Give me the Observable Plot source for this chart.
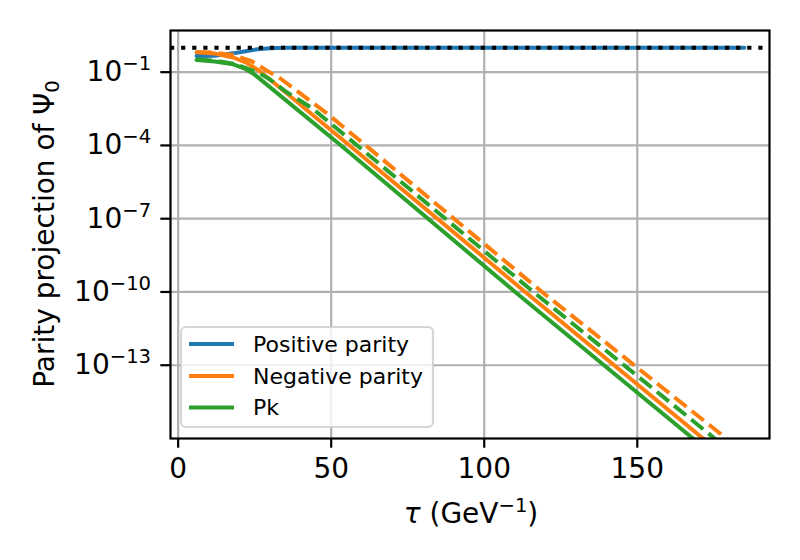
<!DOCTYPE html>
<html>
<head>
<meta charset="utf-8">
<script src="https://cdn.jsdelivr.net/npm/d3@7"></script>
<script src="https://cdn.jsdelivr.net/npm/@observablehq/plot@0.6"></script>
<style>
  html, body { margin: 0; padding: 0; background: #ffffff; }
  #chart { width: 800px; height: 560px; }
</style>
</head>
<body>
<div id="chart"></div>
<script>
// ---- Data ----
const xTicks = [0, 50, 100, 150];
const yTicks = [1e-1, 1e-4, 1e-7, 1e-10, 1e-13];

// Positive parity (solid blue)
const posX = [6, 12, 18, 22, 26, 30, 35, 40, 185];
const posY = [0.457, 0.468, 0.589, 0.724, 0.871, 0.955, 0.989, 1, 1];

// Negative parity (solid orange)
const negX = [6, 12, 18, 22, 26, 30, 56, 113.4, 171.5, 185];
const negY = [0.646, 0.575, 0.398, 0.251, 0.126, 0.0501, 1e-4, 1e-10, 1e-16, 4e-18];

// Pk (solid green)
const pkX = [6, 12, 18, 22, 25, 53.2, 110.1, 168.2, 185];
const pkY = [0.316, 0.275, 0.209, 0.135, 0.0794, 1e-4, 1e-10, 1e-16, 1.8e-18];

// Negative parity, dashed orange
const negDashX = [6, 12, 18, 24, 28.5, 33.4, 49.2, 61.3, 118.9, 179.1, 185];
const negDashY = [0.676, 0.631, 0.501, 0.282, 0.126, 0.055, 1.78e-3, 1e-4, 1e-10, 1e-16, 2.5e-17];

// Pk, dashed green
const pkDashX = [6, 12, 18, 22, 26.8, 30, 35, 43.8, 58.5, 116.1, 175.3, 185];
const pkDashY = [0.339, 0.295, 0.224, 0.151, 0.0871, 0.0501, 0.0166, 3.31e-3, 1e-4, 1e-10, 1e-16, 1.05e-17];

const refLine = [1];

const legendNames = ["Positive parity", "Negative parity", "Pk"];
const colors = ["#1f77b4", "#ff7f0e", "#2ca02c"];

const rows = (xs, ys) => xs.map((x, i) => ({x, y: ys[i]}));

const FONT = "DejaVu Sans";
const LW = 4;
const DASH = "15.4,6.7";

const svg = Plot.plot({
  width: 800,
  height: 560,
  marginLeft: 170,
  marginRight: 31,
  marginTop: 30,
  marginBottom: 122,
  style: {fontFamily: FONT, fontSize: "28px", color: "#000", background: "#fff", overflow: "visible"},
  x: {domain: [-2.5, 193.2], label: null},
  y: {type: "log", domain: [1e-16, 5.08], label: null},
  marks: [
    Plot.gridX(xTicks, {stroke: "#b0b0b0", strokeOpacity: 1, strokeWidth: 2.2}),
    Plot.gridY(yTicks, {stroke: "#b0b0b0", strokeOpacity: 1, strokeWidth: 2.2}),
    Plot.line(rows(posX, posY), {x: "x", y: "y", stroke: colors[0], strokeWidth: LW, clip: true}),
    Plot.line(rows(negX, negY), {x: "x", y: "y", stroke: colors[1], strokeWidth: LW, clip: true}),
    Plot.line(rows(pkX, pkY), {x: "x", y: "y", stroke: colors[2], strokeWidth: LW, clip: true}),
    Plot.line(rows(negDashX, negDashY), {x: "x", y: "y", stroke: colors[1], strokeWidth: LW, strokeDasharray: DASH, strokeLinecap: "butt", clip: true}),
    Plot.line(rows(pkDashX, pkDashY), {x: "x", y: "y", stroke: colors[2], strokeWidth: LW, strokeDasharray: DASH, strokeLinecap: "butt", clip: true}),
    Plot.ruleY(refLine, {stroke: "#000", strokeWidth: LW, strokeDasharray: "4.2,6.9", strokeLinecap: "butt"}),
    Plot.axisX(xTicks, {tickSize: 9.7, tickPadding: 9.7, strokeWidth: 2.2, fontSize: 28, label: null}),
    Plot.axisY(yTicks, {tickSize: 9.7, tickPadding: 9.7, strokeWidth: 2.2, fontSize: 28, label: null,
      tickFormat: d => "10^" + Math.round(Math.log10(d))}),
    Plot.frame({stroke: "#000", strokeWidth: 2.2})
  ]
});

document.getElementById("chart").append(svg);

const S = d3.select(svg);

// superscripts for y tick labels
S.selectAll('g[aria-label="y-axis tick label"] text').each(function() {
  const t = d3.select(this);
  const s = this.textContent;
  if (s.indexOf("^") < 0) return;
  const [base, exp] = s.split("^");
  t.text(null);
  t.append("tspan").text(base);
  t.append("tspan").attr("dy", "-11px").attr("font-size", "70%").text(exp.replace("-", "\u2212"));
});

// x label
const xl = S.append("text")
  .attr("x", 471).attr("y", 523)
  .attr("text-anchor", "middle")
  .attr("font-family", FONT).attr("font-size", 28).attr("fill", "#000");
xl.append("tspan").attr("font-style", "italic").text("\u03C4");
xl.append("tspan").text(" (GeV");
xl.append("tspan").attr("dy", "-11px").attr("font-size", "70%").text("\u22121");
xl.append("tspan").attr("dy", "11px").text(")");

// y label
const yl = S.append("text")
  .attr("transform", "translate(53.5,234) rotate(-90)")
  .attr("text-anchor", "middle")
  .attr("font-family", FONT).attr("font-size", 28).attr("fill", "#000");
yl.append("tspan").text("Parity projection of \u03A8");
yl.append("tspan").attr("dy", "5.5px").attr("font-size", "70%").text("0");

// legend
const lg = S.append("g").attr("font-family", FONT).attr("font-size", 22).attr("text-anchor", "start");
lg.append("rect")
  .attr("x", 181).attr("y", 327).attr("width", 252).attr("height", 100)
  .attr("rx", 5).attr("ry", 5)
  .attr("fill", "#fff").attr("fill-opacity", 0.8)
  .attr("stroke", "#cccccc").attr("stroke-opacity", 0.8).attr("stroke-width", 2.2);
const rowY = [344, 376, 407.5];
legendNames.forEach((name, i) => {
  lg.append("line")
    .attr("x1", 189).attr("x2", 234).attr("y1", rowY[i]).attr("y2", rowY[i])
    .attr("stroke", colors[i]).attr("stroke-width", LW);
  lg.append("text")
    .attr("x", 253).attr("y", rowY[i] + 7.5)
    .attr("text-anchor", "start")
    .attr("fill", "#000")
    .text(name);
});
</script>
</body>
</html>
